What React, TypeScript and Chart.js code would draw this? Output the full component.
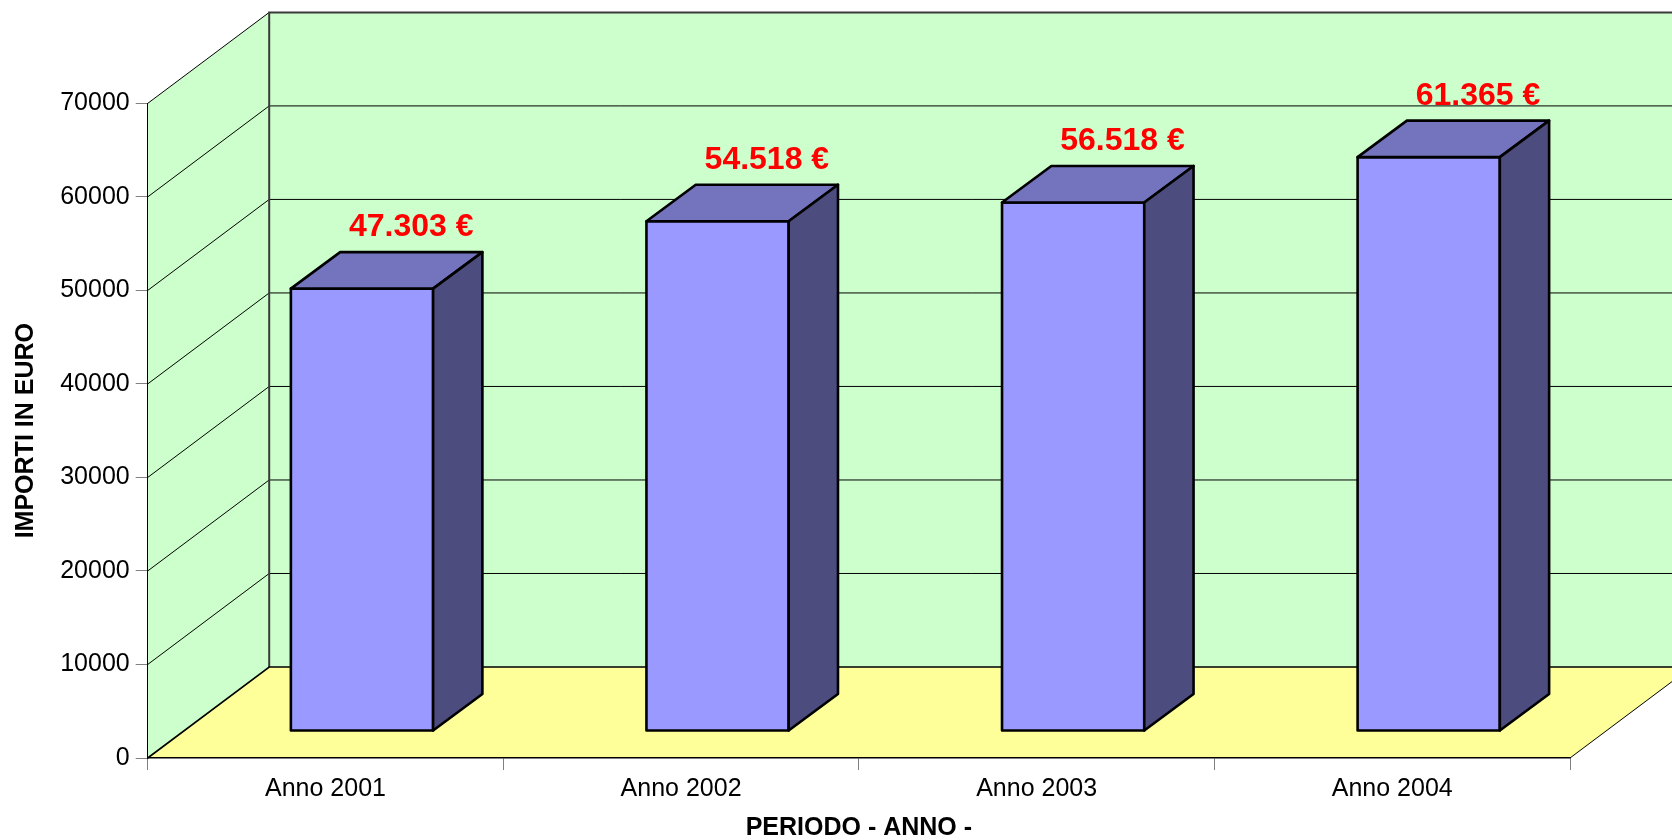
import React, { useEffect, useRef } from 'react';
import { Chart, registerables } from 'chart.js';

Chart.register(...registerables);

// ---- data ----
const categories = ['Anno 2001', 'Anno 2002', 'Anno 2003', 'Anno 2004'];
const values = [47303, 54518, 56518, 61365];
const yMin = 0;
const yMax = 70000;
const yStep = 10000;
const yTitle = 'IMPORTI IN EURO';
const xTitle = 'PERIODO - ANNO -';

// ---- styles ----
const FONT = '"Liberation Sans", Arial, sans-serif';
const WALL = '#CCFFCC';
const FLOOR = '#FFFF99';
const FRONT = '#9999FF';
const TOP = '#7474BE';
const SIDE = '#4C4C7E';
const DEPTH_X = 121.5;
const DEPTH_Y = 91;
const BAR_OFF_X = 36.5;
const BAR_OFF_Y = 27;
const BAR_DX = 49.3;
const BAR_DY = 36.5;

const fmt = (v: number) => String(v).replace(/\B(?=(\d{3})+(?!\d))/g, '.') + ' €';

const threeD = {
  id: 'threeD',
  beforeDraw(chart: any) {
    const { ctx, chartArea: a, scales } = chart;
    const ys = scales.y;
    const L = a.left, R = a.right, T = a.top, B = a.bottom;
    ctx.save();
    ctx.fillStyle = WALL;
    // left wall
    ctx.beginPath();
    ctx.moveTo(L, B);
    ctx.lineTo(L + DEPTH_X, B - DEPTH_Y);
    ctx.lineTo(L + DEPTH_X, T - DEPTH_Y);
    ctx.lineTo(L, T);
    ctx.closePath();
    ctx.fill();
    // back wall
    ctx.fillRect(L + DEPTH_X, T - DEPTH_Y, R - L, B - T);
    // floor
    ctx.fillStyle = FLOOR;
    ctx.beginPath();
    ctx.moveTo(L, B);
    ctx.lineTo(R, B);
    ctx.lineTo(R + DEPTH_X, B - DEPTH_Y);
    ctx.lineTo(L + DEPTH_X, B - DEPTH_Y);
    ctx.closePath();
    ctx.fill();
    // grid lines
    ctx.strokeStyle = '#000';
    ctx.lineWidth = 1;
    ys.ticks.forEach((t: any) => {
      if (t.value === yMin) return;
      const py = ys.getPixelForValue(t.value);
      ctx.beginPath();
      ctx.moveTo(L, py);
      ctx.lineTo(L + DEPTH_X, py - DEPTH_Y);
      if (t.value !== yMax) ctx.lineTo(R + DEPTH_X, py - DEPTH_Y);
      ctx.stroke();
    });
    // back wall edges
    ctx.strokeStyle = '#3a3a3a';
    ctx.lineWidth = 2;
    ctx.beginPath();
    ctx.moveTo(L + DEPTH_X, B - DEPTH_Y);
    ctx.lineTo(L + DEPTH_X, T - DEPTH_Y);
    ctx.lineTo(R + DEPTH_X, T - DEPTH_Y);
    ctx.stroke();
    // floor edges
    ctx.strokeStyle = '#000';
    ctx.lineWidth = 1.6;
    ctx.beginPath();
    ctx.moveTo(L, B);
    ctx.lineTo(L + DEPTH_X, B - DEPTH_Y);
    ctx.lineTo(R + DEPTH_X, B - DEPTH_Y);
    ctx.stroke();
    ctx.lineWidth = 1;
    ctx.beginPath();
    ctx.moveTo(R, B);
    ctx.lineTo(R + DEPTH_X, B - DEPTH_Y);
    ctx.stroke();
    ctx.restore();
  },
  beforeDatasetsDraw(chart: any) {
    chart.ctx.save();
    chart.ctx.translate(BAR_OFF_X, -BAR_OFF_Y);
  },
  afterDatasetsDraw(chart: any) {
    const ctx = chart.ctx;
    ctx.restore();
    const meta = chart.getDatasetMeta(0);
    ctx.save();
    ctx.lineJoin = 'round';
    ctx.strokeStyle = '#000';
    ctx.lineWidth = 2.6;
    meta.data.forEach((el: any, i: number) => {
      const p = el.getProps(['x', 'y', 'base', 'width'], true);
      const x1 = p.x - p.width / 2 + BAR_OFF_X;
      const x2 = p.x + p.width / 2 + BAR_OFF_X;
      const yt = p.y - BAR_OFF_Y;
      const yb = p.base - BAR_OFF_Y;
      // front outline
      ctx.strokeRect(x1, yt, x2 - x1, yb - yt);
      // top face
      ctx.fillStyle = TOP;
      ctx.beginPath();
      ctx.moveTo(x1, yt);
      ctx.lineTo(x1 + BAR_DX, yt - BAR_DY);
      ctx.lineTo(x2 + BAR_DX, yt - BAR_DY);
      ctx.lineTo(x2, yt);
      ctx.closePath();
      ctx.fill();
      ctx.stroke();
      // side face
      ctx.fillStyle = SIDE;
      ctx.beginPath();
      ctx.moveTo(x2, yt);
      ctx.lineTo(x2 + BAR_DX, yt - BAR_DY);
      ctx.lineTo(x2 + BAR_DX, yb - BAR_DY);
      ctx.lineTo(x2, yb);
      ctx.closePath();
      ctx.fill();
      ctx.stroke();
      // value label
      ctx.fillStyle = '#FF0000';
      ctx.font = `bold 32px ${FONT}`;
      ctx.textAlign = 'center';
      ctx.textBaseline = 'alphabetic';
      ctx.fillText(fmt(values[i]), (x1 + x2) / 2 + BAR_DX, yt - BAR_DY - 16);
    });
    ctx.restore();
  },
};

export default function App() {
  const ref = useRef<HTMLCanvasElement>(null);
  useEffect(() => {
    if (!ref.current) return;
    const chart = new Chart(ref.current, {
      type: 'bar',
      data: {
        labels: categories,
        datasets: [
          {
            data: values,
            backgroundColor: FRONT,
            borderWidth: 0,
            barPercentage: 0.4,
            categoryPercentage: 1,
            clip: false as any,
          },
        ],
      },
      options: {
        responsive: false,
        animation: false,
        devicePixelRatio: 1,
        layout: { padding: { top: 103.4, right: 102, bottom: 0, left: 0 } },
        plugins: { legend: { display: false }, tooltip: { enabled: false } },
        scales: {
          x: {
            ticks: { color: '#000', font: { family: FONT, size: 25 }, padding: 4.5 },
            grid: { drawOnChartArea: false, tickColor: '#808080', tickLength: 12, offset: true },
            border: { color: '#000', width: 1.5 },
            title: {
              display: true,
              text: xTitle,
              color: '#000',
              font: { family: FONT, size: 25, weight: 'bold' },
              padding: { top: 0, bottom: -3.6 },
            },
            afterFit: (s: any) => {
              s.height = 82;
            },
          },
          y: {
            min: yMin,
            max: yMax,
            ticks: {
              stepSize: yStep,
              color: '#000',
              font: { family: FONT, size: 25 },
              padding: 6,
              callback: (v: any) => String(v),
            },
            grid: { drawOnChartArea: false, tickColor: '#808080', tickLength: 12 },
            border: { color: '#000', width: 1 },
            title: {
              display: true,
              text: yTitle,
              color: '#000',
              font: { family: FONT, size: 25, weight: 'bold' },
              padding: { top: 11.4, bottom: 0 },
            },
            afterFit: (s: any) => {
              s.width = 147.7;
            },
          },
        },
      },
      plugins: [threeD],
    });
    return () => chart.destroy();
  }, []);
  return (
    <div style={{ position: 'absolute', left: 0, top: 0, width: 1672, height: 840, background: '#fff' }}>
      <canvas ref={ref} width={1672} height={840} style={{ display: 'block' }} />
    </div>
  );
}
